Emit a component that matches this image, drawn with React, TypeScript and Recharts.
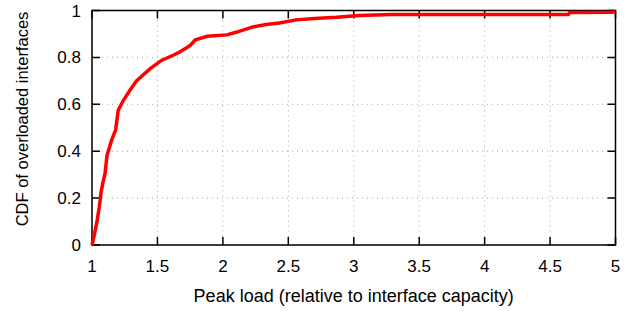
import React from "react";
import {
  LineChart,
  Line,
  XAxis,
  YAxis,
  CartesianGrid,
  Label,
  ReferenceArea,
} from "recharts";

// peak load (x) and CDF value (y)
const loadValues = [
  1.0, 1.02, 1.04, 1.055, 1.07, 1.085, 1.1, 1.115, 1.13, 1.15, 1.18, 1.19, 1.2,
  1.24, 1.29, 1.34, 1.39, 1.445, 1.53, 1.62, 1.67, 1.72, 1.75, 1.79, 1.88, 2.03,
  2.1, 2.23, 2.33, 2.43, 2.56, 2.7, 2.87, 3.04, 3.29, 4.64, 4.65, 4.97, 5.0,
];
const cdfValues = [
  0, 0.05, 0.106, 0.16, 0.227, 0.27, 0.306, 0.383, 0.41, 0.447, 0.49, 0.53, 0.574,
  0.617, 0.66, 0.7, 0.725, 0.752, 0.787, 0.809, 0.823, 0.84, 0.851, 0.875, 0.89,
  0.896, 0.907, 0.93, 0.94, 0.947, 0.96, 0.966, 0.971, 0.979, 0.983, 0.983, 0.991,
  0.993, 0.995,
];

const xTicks = [1, 1.5, 2, 2.5, 3, 3.5, 4, 4.5, 5];
const yTicks = [0, 0.2, 0.4, 0.6, 0.8, 1];
const X_DOMAIN = [1, 5];
const Y_DOMAIN = [0, 1];

const data = loadValues.map((x, i) => ({ x, y: cdfValues[i] }));

const FONT = '"Liberation Sans", Arial, Helvetica, sans-serif';
const TICK_LEN = 8;

const BottomTick = ({ x, y, payload }: any) => (
  <text x={x} y={y + 27} textAnchor="middle" fontSize={17} fill="#000" fontFamily={FONT}>
    {payload.value}
  </text>
);

const LeftTick = ({ x, y, payload }: any) => (
  <text x={x - 11} y={y} dy="0.355em" textAnchor="end" fontSize={17} fill="#000" fontFamily={FONT}>
    {payload.value}
  </text>
);

// border box plus gnuplot-style inward ticks on all four sides,
// drawn inside the plot rectangle handed over by ReferenceArea
const FrameShape = ({ x, y, width, height }: any) => {
  const sx = (v: number) => x + ((v - X_DOMAIN[0]) / (X_DOMAIN[1] - X_DOMAIN[0])) * width;
  const sy = (v: number) => y + height - ((v - Y_DOMAIN[0]) / (Y_DOMAIN[1] - Y_DOMAIN[0])) * height;
  const d =
    xTicks.map((v) => `M${sx(v)},${y + height}v${-TICK_LEN}M${sx(v)},${y}v${TICK_LEN}`).join("") +
    yTicks.map((v) => `M${x},${sy(v)}h${TICK_LEN}M${x + width},${sy(v)}h${-TICK_LEN}`).join("");
  return (
    <g>
      <rect x={x} y={y} width={width} height={height} fill="none" stroke="#000" strokeWidth={1.5} />
      <path d={d} fill="none" stroke="#000" strokeWidth={1.5} />
    </g>
  );
};

const App: React.FC = () => {
  return (
    <div style={{ position: "absolute", left: 0, top: 0, background: "#fff" }}>
      <LineChart
        width={637}
        height={311}
        data={data}
        margin={{ top: 10.5, right: 21.5, bottom: 0, left: 0 }}
        style={{ fontFamily: FONT }}
      >
        <CartesianGrid
          stroke="#a8a8a8"
          strokeDasharray="1 4"
          horizontalValues={yTicks}
          verticalValues={xTicks}
        />
        <XAxis
          dataKey="x"
          type="number"
          domain={X_DOMAIN}
          ticks={xTicks}
          height={66}
          tickSize={0}
          tickMargin={0}
          axisLine={false}
          tickLine={false}
          tick={<BottomTick />}
          interval={0}
        >
          <Label
            content={() => (
              <text x={353.7} y={301.7} textAnchor="middle" fontSize={18} fill="#000" fontFamily={FONT}>
                Peak load (relative to interface capacity)
              </text>
            )}
          />
        </XAxis>
        <YAxis
          type="number"
          domain={Y_DOMAIN}
          ticks={yTicks}
          width={92}
          tickSize={0}
          tickMargin={0}
          axisLine={false}
          tickLine={false}
          tick={<LeftTick />}
          interval={0}
        >
          <Label
            content={() => (
              <text
                x={28}
                y={119}
                transform="rotate(-90, 28, 119)"
                textAnchor="middle"
                fontSize={16.5}
                fill="#000"
                fontFamily={FONT}
              >
                CDF of overloaded interfaces
              </text>
            )}
          />
        </YAxis>
        <ReferenceArea
          x1={X_DOMAIN[0]}
          x2={X_DOMAIN[1]}
          y1={Y_DOMAIN[0]}
          y2={Y_DOMAIN[1]}
          ifOverflow="visible"
          shape={FrameShape}
        />
        <Line
          type="linear"
          dataKey="y"
          stroke="#ff0000"
          strokeWidth={3.5}
          dot={false}
          activeDot={false}
          isAnimationActive={false}
        />
      </LineChart>
    </div>
  );
};

export default App;
